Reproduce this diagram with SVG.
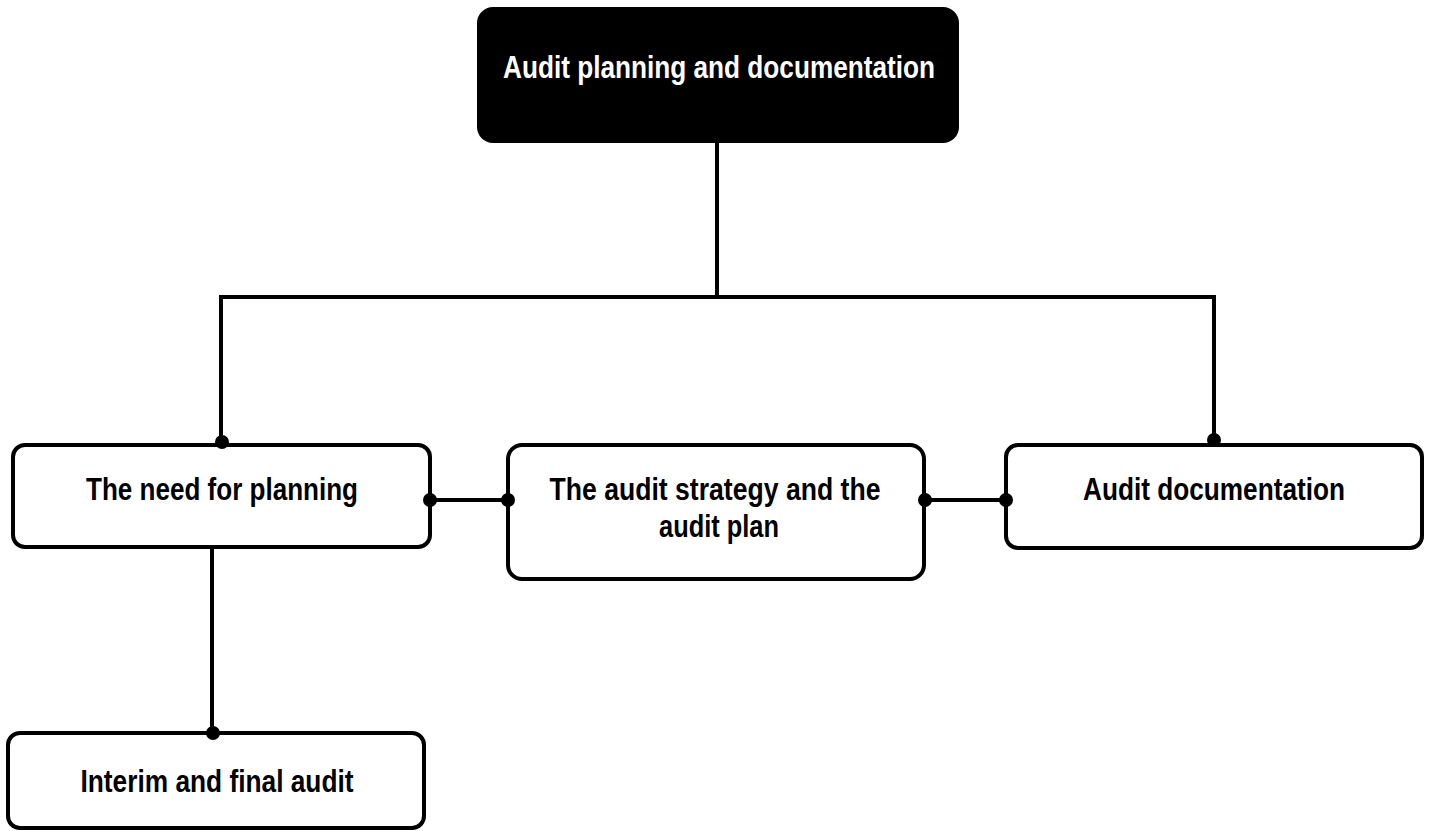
<svg xmlns="http://www.w3.org/2000/svg" width="1431" height="831" viewBox="0 0 1431 831">
<style>
.box{fill:#fff;stroke:#000;stroke-width:4}
.lbl{font-family:"Liberation Sans",Arial,sans-serif;font-weight:bold;font-size:31px;fill:#000;text-anchor:middle}
.conn line{stroke:#000;stroke-width:4}
.conn circle{fill:#000}
</style>
<rect width="1431" height="831" fill="#fff"/>
<g id="root">
<rect x="477" y="7" width="482" height="136" rx="16" fill="#000"/>
<text class="lbl" x="719" y="78" style="fill:#fff" textLength="432" lengthAdjust="spacingAndGlyphs">Audit planning and documentation</text>
</g>
<g id="need">
<rect class="box" x="13" y="445" width="417" height="102" rx="12"/>
<text class="lbl" x="222" y="500" textLength="272" lengthAdjust="spacingAndGlyphs">The need for planning</text>
</g>
<g id="strategy">
<rect class="box" x="508" y="445" width="416" height="134" rx="14"/>
<text class="lbl" x="715" y="500" textLength="331" lengthAdjust="spacingAndGlyphs">The audit strategy and the</text>
<text class="lbl" x="719" y="537" textLength="120" lengthAdjust="spacingAndGlyphs">audit plan</text>
</g>
<g id="documentation">
<rect class="box" x="1006" y="445" width="416" height="103" rx="12"/>
<text class="lbl" x="1214" y="500" textLength="262" lengthAdjust="spacingAndGlyphs">Audit documentation</text>
</g>
<g id="interim">
<rect class="box" x="8" y="733" width="416" height="95" rx="12"/>
<text class="lbl" x="217" y="792" textLength="273" lengthAdjust="spacingAndGlyphs">Interim and final audit</text>
</g>
<g class="conn" id="connectors">
<line x1="717" y1="143" x2="717" y2="297"/>
<line x1="219" y1="297" x2="1216" y2="297"/>
<line x1="221" y1="295" x2="221" y2="442"/>
<line x1="1214" y1="295" x2="1214" y2="440"/>
<circle cx="222" cy="442" r="7"/>
<circle cx="1214" cy="440" r="7"/>
<line x1="430" y1="500" x2="508" y2="500"/>
<circle cx="430" cy="500" r="7"/>
<circle cx="508" cy="500" r="7"/>
<line x1="925" y1="500" x2="1006" y2="500"/>
<circle cx="925" cy="500" r="7"/>
<circle cx="1006" cy="500" r="7"/>
<line x1="212" y1="549" x2="212" y2="733"/>
<circle cx="213" cy="733" r="7"/>
</g>
</svg>
